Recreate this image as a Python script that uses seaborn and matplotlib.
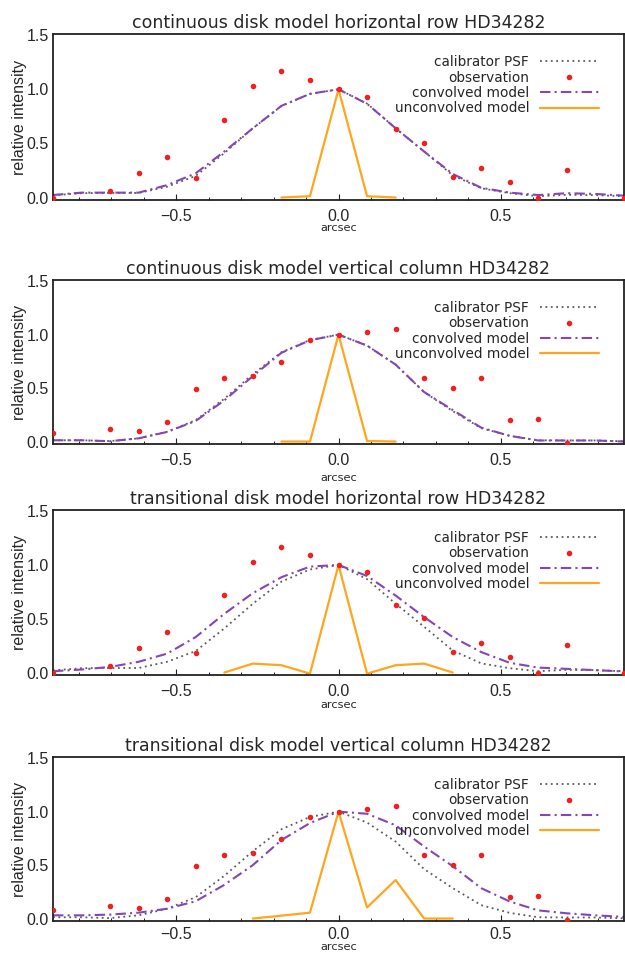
import numpy as np
import pandas as pd
import matplotlib
matplotlib.use("Agg")
import matplotlib.pyplot as plt
from matplotlib.ticker import MultipleLocator, FixedLocator
from matplotlib.lines import Line2D
import seaborn as sns

# ---------------- data ----------------
pixel_index = list(range(-10, 11))
pixel_scale = 0.088  # arcsec per pixel
offsets = [k * pixel_scale for k in pixel_index]

# observation (horizontal row / vertical column); negatives fall below the axis
obs_row = [0.0, -0.05, 0.06, 0.23, 0.375, 0.178, 0.718, 1.026, 1.165, 1.088, 1.0,
           0.93, 0.631, 0.508, 0.193, 0.27, 0.147, -0.005, 0.255, -0.05, -0.005]
obs_col = [0.08, -0.05, 0.12, 0.10, 0.18, 0.495, 0.59, 0.615, 0.748, 0.952, 1.0,
           1.02, 1.055, 0.59, 0.505, 0.59, 0.20, 0.212, -0.01, -0.05, -0.05]

# calibrator PSF
psf_row = [0.02, 0.04, 0.042, 0.042, 0.10, 0.20, 0.41, 0.64, 0.845, 0.958, 1.0,
           0.868, 0.64, 0.425, 0.205, 0.085, 0.04, 0.012, 0.025, 0.022, 0.012]
psf_col = [0.012, 0.012, 0.004, 0.03, 0.092, 0.20, 0.40, 0.63, 0.835, 0.95, 1.0,
           0.898, 0.72, 0.462, 0.285, 0.125, 0.053, 0.012, 0.01, 0.01, 0.002]

# convolved models
conv_cont_row = [0.023, 0.045, 0.045, 0.045, 0.115, 0.224, 0.425, 0.64, 0.847, 0.958, 1.0,
                 0.866, 0.64, 0.425, 0.218, 0.09, 0.045, 0.023, 0.04, 0.033, 0.017]
conv_cont_col = [0.012, 0.012, 0.003, 0.03, 0.09, 0.193, 0.385, 0.612, 0.83, 0.947, 1.0,
                 0.897, 0.72, 0.463, 0.295, 0.13, 0.053, 0.01, 0.01, 0.01, 0.0]
conv_trans_row = [0.012, 0.028, 0.052, 0.10, 0.176, 0.33, 0.546, 0.738, 0.886, 0.985, 1.0,
                  0.898, 0.716, 0.515, 0.33, 0.19, 0.09, 0.046, 0.034, 0.022, 0.01]
conv_trans_col = [0.03, 0.03, 0.037, 0.055, 0.092, 0.162, 0.315, 0.50, 0.734, 0.893, 1.0,
                  0.98, 0.872, 0.673, 0.49, 0.284, 0.159, 0.076, 0.049, 0.03, 0.015]

# unconvolved models (NaN = outside model extent)
nan = np.nan
unconv_cont_row = [nan, nan, nan, nan, nan, nan, nan, nan, 0.0, 0.012, 1.0,
                   0.012, 0.0, nan, nan, nan, nan, nan, nan, nan, nan]
unconv_cont_col = [nan, nan, nan, nan, nan, nan, nan, nan, 0.0, 0.0, 1.0,
                   0.005, 0.0, nan, nan, nan, nan, nan, nan, nan, nan]
unconv_trans_row = [nan, nan, nan, nan, nan, nan, 0.0, 0.083, 0.068, -0.01, 1.0,
                    -0.01, 0.068, 0.083, 0.0, nan, nan, nan, nan, nan, nan]
unconv_trans_col = [nan, nan, nan, nan, nan, nan, nan, 0.0, 0.027, 0.055, 1.0,
                    0.104, 0.36, 0.0, 0.0, nan, nan, nan, nan, nan, nan]

titles = [
    "continuous disk model horizontal row HD34282",
    "continuous disk model vertical column HD34282",
    "transitional disk model horizontal row HD34282",
    "transitional disk model vertical column HD34282",
]
legend_labels = ["calibrator PSF", "observation", "convolved model", "unconvolved model"]
x_label = "arcsec"
y_label = "relative intensity"
ytick_values = [0.0, 0.5, 1.0, 1.5]
xtick_values = [-0.5, 0.0, 0.5]

panels = [
    (obs_row, psf_row, conv_cont_row, unconv_cont_row),
    (obs_col, psf_col, conv_cont_col, unconv_cont_col),
    (obs_row, psf_row, conv_trans_row, unconv_trans_row),
    (obs_col, psf_col, conv_trans_col, unconv_trans_col),
]

# ---------------- style ----------------
sns.set_theme(style="white")
plt.rcParams["font.family"] = ["Liberation Sans", "DejaVu Sans"]

C_PSF = "#5a5a5a"
C_OBS = "#f02020"
C_CONV = "#8446b4"
C_UNC = "#ffa51f"
LS_CONV = (0, (5, 2, 1, 2))
LS_PSF = (0, (1, 2))

W, H = 625, 955
fig = plt.figure(figsize=(W / 100, H / 100), dpi=100)

# axes boxes in pixels (top, bottom)
boxes = [(34, 200), (280, 444), (510, 675), (757, 921)]
xlabel_y = [-0.140, -0.177, -0.150, -0.128]
tick_pads = [6.5, 6.5, 6.5, 4.5]
left_px, right_px = 53, 624

for i, ((obs, psf, conv, unc), (top, bot)) in enumerate(zip(panels, boxes)):
    ax = fig.add_axes([left_px / W, 1 - bot / H, (right_px - left_px) / W, (bot - top) / H])
    df = pd.DataFrame({"x": offsets, "obs": obs, "psf": psf, "conv": conv, "unc": unc})

    sns.lineplot(data=df, x="x", y="psf", ax=ax, color=C_PSF, lw=1.3, linestyle=LS_PSF,
                 estimator=None, sort=False)
    sns.lineplot(data=df, x="x", y="conv", ax=ax, color=C_CONV, lw=1.5, linestyle=LS_CONV,
                 estimator=None, sort=False)
    sns.lineplot(data=df, x="x", y="unc", ax=ax, color=C_UNC, lw=1.6, estimator=None, sort=False)
    sns.scatterplot(data=df, x="x", y="obs", ax=ax, color=C_OBS, s=16, linewidth=0, zorder=3)

    ax.set_xlim(-0.88, 0.88)
    ax.set_ylim(-0.023, 1.511)
    ax.xaxis.set_major_locator(FixedLocator(xtick_values))
    ax.xaxis.set_minor_locator(MultipleLocator(0.1))
    ax.yaxis.set_major_locator(FixedLocator(ytick_values))
    ax.set_xticklabels(["\u22120.5", "0.0", "0.5"])
    ax.set_yticklabels(["0.0", "0.5", "1.0", "1.5"])
    ax.tick_params(axis="x", which="major", direction="in", length=4.5, width=0.8,
                   bottom=True, top=False, pad=tick_pads[i], labelsize=11.5, color="#222222")
    ax.tick_params(axis="x", which="minor", direction="in", length=2.5, width=0.7,
                   bottom=True, top=False, color="#222222")
    ax.tick_params(axis="y", which="both", length=0, pad=3, labelsize=11.5)
    for sp in ax.spines.values():
        sp.set_color("#222222")
        sp.set_linewidth(1.3)

    ax.set_xlabel(x_label, fontsize=8.2, family="DejaVu Sans")
    ax.xaxis.set_label_coords(0.5, xlabel_y[i])
    ax.set_ylabel(y_label, fontsize=11.5)
    ax.yaxis.set_label_coords(-0.046, 0.5)
    ax.set_title(titles[i], fontsize=12.5, family="DejaVu Sans", pad=4.5)

    handles = [
        Line2D([], [], color=C_PSF, lw=1.3, linestyle=LS_PSF),
        Line2D([], [], color=C_OBS, marker="o", markersize=4, linestyle="none", markeredgewidth=0),
        Line2D([], [], color=C_CONV, lw=1.5, linestyle=LS_CONV),
        Line2D([], [], color=C_UNC, lw=1.6),
    ]
    leg = ax.legend(handles, legend_labels, loc="upper right", frameon=False,
                    markerfirst=False, prop={"family": "DejaVu Sans", "size": 9.8},
                    handlelength=4.3, handletextpad=0.8, labelspacing=0.1,
                    bbox_to_anchor=(0.965, 0.905), borderaxespad=0)

fig.savefig("out.png", dpi=100)
